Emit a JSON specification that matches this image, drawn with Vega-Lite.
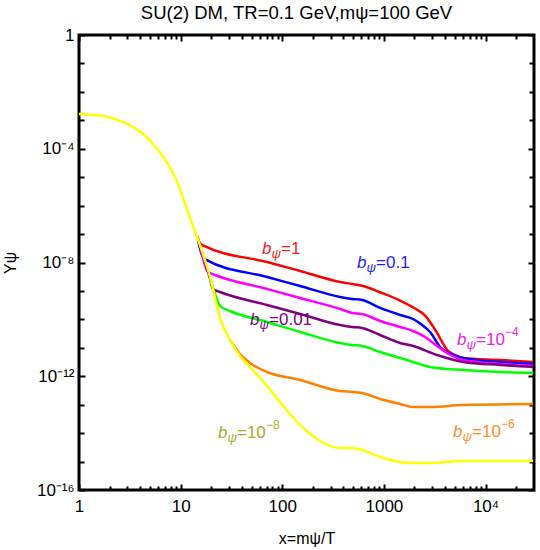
{
  "$schema": "https://vega.github.io/schema/vega-lite/v6.json",
  "width": 455,
  "height": 455,
  "autosize": {"type": "none"},
  "padding": {"left": 79, "top": 35, "right": 6, "bottom": 60},
  "background": "white",
  "title": {"text": "SU(2) DM, TR=0.1 GeV,mψ=100 GeV", "font": "Liberation Sans", "fontSize": 18.5, "fontWeight": "normal", "color": "black", "offset": 4, "dx": -10},
  "config": {
    "view": {"stroke": "black", "strokeWidth": 3},
    "axis": {
      "labelFont": "Liberation Sans", "labelFontSize": 17, "labelColor": "black",
      "titleFont": "Liberation Sans", "titleFontSize": 16, "titleFontWeight": "normal", "titleColor": "black",
      "tickColor": "black", "tickWidth": 2, "grid": false, "domain": false,
      "labelOverlap": false, "labelFlush": false, "labelBound": false
    }
  },
  "datasets": {
    "curves": [
      {"s": "1", "x": 14.5, "y": 8.55e-8}, {"s": "1", "x": 15.5, "y": 4.85e-8}, {"s": "1", "x": 17.0, "y": 3.81e-8}, {"s": "1", "x": 70.8, "y": 1.04e-8}, {"s": "1", "x": 150, "y": 5.04e-9}, {"s": "1", "x": 371, "y": 2.07e-9}, {"s": "1", "x": 486, "y": 1.76e-9}, {"s": "1", "x": 624, "y": 1.49e-9}, {"s": "1", "x": 918, "y": 9.0e-10}, {"s": "1", "x": 1443, "y": 4.6e-10}, {"s": "1", "x": 2028, "y": 2.4e-10}, {"s": "1", "x": 2545, "y": 1.36e-10}, {"s": "1", "x": 2980, "y": 6.35e-11}, {"s": "1", "x": 3340, "y": 3.33e-11}, {"s": "1", "x": 3740, "y": 1.60e-11}, {"s": "1", "x": 4190, "y": 8.39e-12}, {"s": "1", "x": 5020, "y": 5.60e-12}, {"s": "1", "x": 6020, "y": 4.40e-12}, {"s": "1", "x": 13930, "y": 3.74e-12}, {"s": "1", "x": 29400, "y": 3.18e-12},
      {"s": "0.1", "x": 14.8, "y": 6.19e-8}, {"s": "0.1", "x": 16.2, "y": 1.84e-8}, {"s": "0.1", "x": 17.8, "y": 1.23e-8}, {"s": "0.1", "x": 70.8, "y": 3.10e-9}, {"s": "0.1", "x": 150, "y": 1.49e-9}, {"s": "0.1", "x": 371, "y": 6.14e-10}, {"s": "0.1", "x": 486, "y": 5.21e-10}, {"s": "0.1", "x": 610, "y": 4.81e-10}, {"s": "0.1", "x": 918, "y": 2.52e-10}, {"s": "0.1", "x": 1443, "y": 1.43e-10}, {"s": "0.1", "x": 1936, "y": 1.03e-10}, {"s": "0.1", "x": 2377, "y": 6.35e-11}, {"s": "0.1", "x": 2851, "y": 3.61e-11}, {"s": "0.1", "x": 3573, "y": 1.07e-11}, {"s": "0.1", "x": 4800, "y": 5.60e-12}, {"s": "0.1", "x": 7900, "y": 3.74e-12}, {"s": "0.1", "x": 13930, "y": 3.18e-12}, {"s": "0.1", "x": 29400, "y": 2.70e-12},
      {"s": "1e-4", "x": 15.5, "y": 4.13e-8}, {"s": "1e-4", "x": 17.0, "y": 1.04e-8}, {"s": "1e-4", "x": 18.6, "y": 4.65e-9}, {"s": "1e-4", "x": 21.8, "y": 3.64e-9}, {"s": "1e-4", "x": 70.8, "y": 1.17e-9}, {"s": "1e-4", "x": 150, "y": 5.65e-10}, {"s": "1e-4", "x": 371, "y": 2.32e-10}, {"s": "1e-4", "x": 486, "y": 1.68e-10}, {"s": "1e-4", "x": 610, "y": 1.55e-10}, {"s": "1e-4", "x": 918, "y": 8.79e-11}, {"s": "1e-4", "x": 1443, "y": 5.41e-11}, {"s": "1e-4", "x": 1936, "y": 3.91e-11}, {"s": "1e-4", "x": 2545, "y": 2.40e-11}, {"s": "1e-4", "x": 3050, "y": 1.48e-11}, {"s": "1e-4", "x": 4190, "y": 6.59e-12}, {"s": "1e-4", "x": 6020, "y": 3.74e-12}, {"s": "1e-4", "x": 13930, "y": 2.70e-12}, {"s": "1e-4", "x": 29400, "y": 2.30e-12},
      {"s": "0.01", "x": 17.4, "y": 1.04e-8}, {"s": "0.01", "x": 19.5, "y": 2.64e-9}, {"s": "0.01", "x": 20.8, "y": 1.17e-9}, {"s": "0.01", "x": 24.4, "y": 9.19e-10}, {"s": "0.01", "x": 70.8, "y": 3.21e-10}, {"s": "0.01", "x": 150, "y": 1.55e-10}, {"s": "0.01", "x": 371, "y": 6.35e-11}, {"s": "0.01", "x": 486, "y": 5.41e-11}, {"s": "0.01", "x": 610, "y": 4.99e-11}, {"s": "0.01", "x": 918, "y": 2.82e-11}, {"s": "0.01", "x": 1443, "y": 1.48e-11}, {"s": "0.01", "x": 1936, "y": 1.16e-11}, {"s": "0.01", "x": 3340, "y": 5.60e-12}, {"s": "0.01", "x": 6020, "y": 3.18e-12}, {"s": "0.01", "x": 13930, "y": 2.49e-12}, {"s": "0.01", "x": 29400, "y": 2.12e-12},
      {"s": "green", "x": 19.5, "y": 2.86e-9}, {"s": "green", "x": 21.8, "y": 7.82e-10}, {"s": "green", "x": 24.4, "y": 2.96e-10}, {"s": "green", "x": 30.6, "y": 1.97e-10}, {"s": "green", "x": 70.8, "y": 8.11e-11}, {"s": "green", "x": 150, "y": 3.61e-11}, {"s": "green", "x": 371, "y": 1.48e-11}, {"s": "green", "x": 486, "y": 1.26e-11}, {"s": "green", "x": 610, "y": 1.16e-11}, {"s": "green", "x": 918, "y": 7.14e-12}, {"s": "green", "x": 1443, "y": 4.40e-12}, {"s": "green", "x": 1936, "y": 3.18e-12}, {"s": "green", "x": 2851, "y": 2.12e-12}, {"s": "green", "x": 6020, "y": 1.66e-12}, {"s": "green", "x": 13930, "y": 1.41e-12}, {"s": "green", "x": 29400, "y": 1.30e-12},
      {"s": "1e-6", "x": 30.6, "y": 1.89e-11}, {"s": "1e-6", "x": 38.4, "y": 6.07e-12}, {"s": "1e-6", "x": 48.2, "y": 2.93e-12}, {"s": "1e-6", "x": 70.8, "y": 1.41e-12}, {"s": "1e-6", "x": 150, "y": 7.40e-13}, {"s": "1e-6", "x": 371, "y": 3.03e-13}, {"s": "1e-6", "x": 486, "y": 2.80e-13}, {"s": "1e-6", "x": 610, "y": 2.58e-13}, {"s": "1e-6", "x": 918, "y": 1.59e-13}, {"s": "1e-6", "x": 1443, "y": 1.06e-13}, {"s": "1e-6", "x": 1936, "y": 8.32e-14}, {"s": "1e-6", "x": 2851, "y": 8.32e-14}, {"s": "1e-6", "x": 6020, "y": 9.77e-14}, {"s": "1e-6", "x": 29400, "y": 1.06e-13},
      {"s": "1e-8", "x": 1, "y": 1.667e-3}, {"s": "1e-8", "x": 1.44, "y": 1.54e-3}, {"s": "1e-8", "x": 1.93, "y": 1.31e-3}, {"s": "1e-8", "x": 2.84, "y": 8.05e-4}, {"s": "1e-8", "x": 4.17, "y": 3.58e-4}, {"s": "1e-8", "x": 5.99, "y": 9.04e-5}, {"s": "1e-8", "x": 8.81, "y": 1.02e-5}, {"s": "1e-8", "x": 12.9, "y": 2.45e-7}, {"s": "1e-8", "x": 15.5, "y": 4.13e-8}, {"s": "1e-8", "x": 19.5, "y": 3.10e-9}, {"s": "1e-8", "x": 24.4, "y": 1.12e-10}, {"s": "1e-8", "x": 30.6, "y": 1.89e-11}, {"s": "1e-8", "x": 38.4, "y": 5.16e-12}, {"s": "1e-8", "x": 48.2, "y": 2.12e-12}, {"s": "1e-8", "x": 70.8, "y": 4.55e-13}, {"s": "1e-8", "x": 102, "y": 9.02e-14}, {"s": "1e-8", "x": 150, "y": 1.94e-14}, {"s": "1e-8", "x": 220, "y": 6.24e-15}, {"s": "1e-8", "x": 371, "y": 3.01e-15}, {"s": "1e-8", "x": 490, "y": 3.01e-15}, {"s": "1e-8", "x": 610, "y": 2.56e-15}, {"s": "1e-8", "x": 918, "y": 1.45e-15}, {"s": "1e-8", "x": 1443, "y": 9.68e-16}, {"s": "1e-8", "x": 1936, "y": 8.93e-16}, {"s": "1e-8", "x": 2851, "y": 8.93e-16}, {"s": "1e-8", "x": 6020, "y": 1.05e-15}, {"s": "1e-8", "x": 13930, "y": 1.05e-15}, {"s": "1e-8", "x": 29400, "y": 1.05e-15}
    ],
    "labels": [
      {"s": "1", "x": 63.3, "y": 2.99e-8, "eq": "=1", "sup": ""},
      {"s": "0.1", "x": 545, "y": 9.62e-9, "eq": "=0.1", "sup": ""},
      {"s": "0.01", "x": 48.2, "y": 9.53e-11, "eq": "=0.01", "sup": ""},
      {"s": "1e-4", "x": 5250, "y": 1.89e-11, "eq": "=10", "sup": "−4"},
      {"s": "1e-6", "x": 4800, "y": 1.10e-14, "eq": "=10", "sup": "−6"},
      {"s": "1e-8", "x": 23.3, "y": 1.01e-14, "eq": "=10", "sup": "−8"}
    ]
  },
  "layer": [
    {
      "data": {"name": "curves"},
      "mark": {"type": "line", "strokeWidth": 2.5, "clip": true, "interpolate": "monotone"},
      "encoding": {
        "x": {"field": "x", "type": "quantitative", "scale": {"type": "log", "domain": [1, 30000], "nice": false},
          "axis": {"title": "x=mψ/T", "values": [1,2,3,4,5,6,7,8,9,10,20,30,40,50,60,70,80,90,100,200,300,400,500,600,700,800,900,1000,2000,3000,4000,5000,6000,7000,8000,9000,10000,20000],
            "labelExpr": "datum.value == 1 ? '1' : datum.value == 10 ? '10' : datum.value == 100 ? '100' : datum.value == 1000 ? '1000' : datum.value == 10000 ? '10⁴' : ''",
            "tickSize": {"condition": {"test": "abs(log(datum.value)/LN10 - round(log(datum.value)/LN10)) < 0.001", "value": -6}, "value": -4},
            "labelPadding": 14, "titlePadding": 14}},
        "y": {"field": "y", "type": "quantitative", "scale": {"type": "log", "domain": [1e-16, 1], "nice": false},
          "axis": {"title": "Yψ", "values": [1, 0.1, 0.01, 1e-3, 1e-4, 1e-5, 1e-6, 1e-7, 1e-8, 1e-9, 1e-10, 1e-11, 1e-12, 1e-13, 1e-14, 1e-15, 1e-16],
            "labelExpr": "round(log(datum.value)/LN10) == 0 ? '1' : round(log(datum.value)/LN10) == -4 ? '10⁻⁴' : round(log(datum.value)/LN10) == -8 ? '10⁻⁸' : round(log(datum.value)/LN10) == -12 ? '10⁻¹²' : round(log(datum.value)/LN10) == -16 ? '10⁻¹⁶' : ''",
            "tickSize": {"condition": {"test": "round(log(datum.value)/LN10) % 4 == 0", "value": -6}, "value": -5},
            "labelPadding": 11, "titlePadding": 18}},
        "color": {"field": "s", "type": "nominal", "legend": null,
          "scale": {"domain": ["1", "0.1", "1e-4", "0.01", "green", "1e-6", "1e-8"], "range": ["#FF0000", "#0000FF", "#FF00FF", "#800080", "#00FF00", "#FF8000", "#FFFF00"]}}
      }
    },
    {
      "data": {"name": "curves"},
      "mark": {"type": "point", "opacity": 0},
      "encoding": {
        "x": {"field": "x", "type": "quantitative", "scale": {"type": "log", "domain": [1, 30000], "nice": false},
          "axis": {"orient": "top", "title": null, "labels": false, "values": [1,2,3,4,5,6,7,8,9,10,20,30,40,50,60,70,80,90,100,200,300,400,500,600,700,800,900,1000,2000,3000,4000,5000,6000,7000,8000,9000,10000,20000],
            "tickSize": {"condition": {"test": "abs(log(datum.value)/LN10 - round(log(datum.value)/LN10)) < 0.001", "value": -6}, "value": -4}}},
        "y": {"field": "y", "type": "quantitative", "scale": {"type": "log", "domain": [1e-16, 1], "nice": false},
          "axis": {"orient": "right", "title": null, "labels": false, "values": [1, 0.1, 0.01, 1e-3, 1e-4, 1e-5, 1e-6, 1e-7, 1e-8, 1e-9, 1e-10, 1e-11, 1e-12, 1e-13, 1e-14, 1e-15, 1e-16],
            "tickSize": {"condition": {"test": "round(log(datum.value)/LN10) % 4 == 0", "value": -6}, "value": -5}}}
      }
    },
    {
      "data": {"name": "labels"},
      "encoding": {
        "x": {"field": "x", "type": "quantitative", "scale": {"type": "log", "domain": [1, 30000], "nice": false}, "axis": null},
        "y": {"field": "y", "type": "quantitative", "scale": {"type": "log", "domain": [1e-16, 1], "nice": false}, "axis": null},
        "color": {"field": "s", "type": "nominal", "legend": null,
          "scale": {"domain": ["1", "0.1", "0.01", "1e-4", "1e-6", "1e-8"], "range": ["#F01E1E", "#1E1EF0", "#800080", "#E61EE6", "#FF8C28", "#AAAA28"]}}
      },
      "layer": [
        {"mark": {"type": "text", "align": "left", "baseline": "middle", "font": "Liberation Sans", "fontSize": 17, "fontStyle": "italic"}, "encoding": {"text": {"value": "b"}}},
        {"mark": {"type": "text", "align": "left", "baseline": "middle", "font": "Liberation Sans", "fontSize": 13, "fontStyle": "italic", "dx": 9.5, "dy": 5}, "encoding": {"text": {"value": "ψ"}}},
        {"mark": {"type": "text", "align": "left", "baseline": "middle", "font": "Liberation Sans", "fontSize": 17, "dx": 19}, "encoding": {"text": {"field": "eq"}}},
        {"mark": {"type": "text", "align": "left", "baseline": "middle", "font": "Liberation Sans", "fontSize": 12, "dx": 48, "dy": -8}, "encoding": {"text": {"field": "sup"}}}
      ]
    }
  ],
  "resolve": {"axis": {"x": "independent", "y": "independent"}, "scale": {"color": "independent"}}
}
